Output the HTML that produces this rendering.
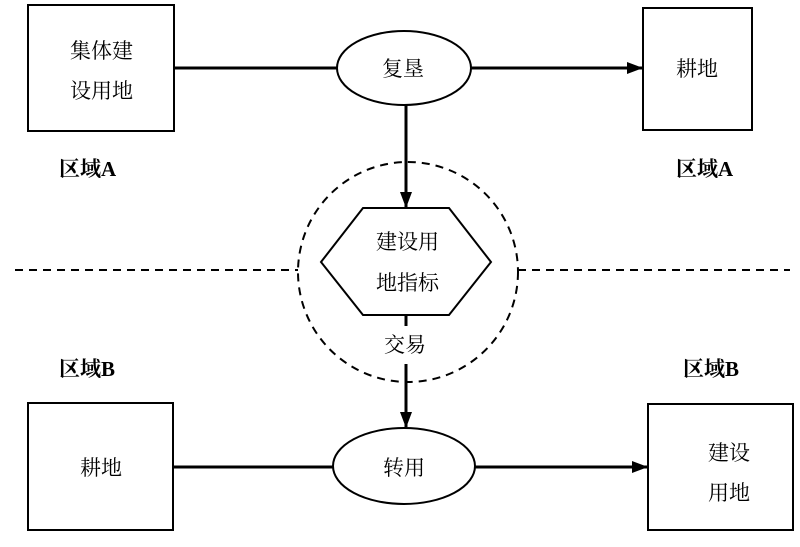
<!DOCTYPE html>
<html><head><meta charset="utf-8"><style>
body{margin:0;background:#fff}
svg text{font-family:"Liberation Serif","Noto Serif CJK SC","Noto Sans CJK SC",serif;font-size:21px;fill:#000}
svg text.b{font-weight:bold}
</style></head><body>
<svg width="800" height="542" viewBox="0 0 800 542" xmlns="http://www.w3.org/2000/svg">
<defs><marker id="b" markerWidth="16" markerHeight="12" refX="15" refY="6" orient="auto" markerUnits="userSpaceOnUse"><path d="M0,0 L16,6 L0,12 Z" fill="#000"/></marker></defs>
<g fill="none" stroke="#000" stroke-width="2">
<rect x="28" y="5" width="146" height="126"/>
<rect x="643" y="8" width="109" height="122"/>
<rect x="28" y="403" width="145" height="127"/>
<rect x="648" y="404" width="145" height="126"/>
<ellipse cx="404" cy="68" rx="67" ry="37"/>
<ellipse cx="404" cy="466" rx="71" ry="38"/>
<polygon points="321,262 363,208 449,208 491,262 449,315 363,315"/>
<circle cx="408" cy="272" r="110" stroke-dasharray="8,6"/>
<line x1="15" y1="270" x2="298" y2="270" stroke-dasharray="8,6"/>
<line x1="518" y1="270" x2="790" y2="270" stroke-dasharray="8,6"/>
<line x1="174" y1="68" x2="337" y2="68" stroke-width="3"/>
<line x1="471" y1="68" x2="642" y2="68" stroke-width="3" marker-end="url(#b)"/>
<line x1="173" y1="467" x2="333" y2="467" stroke-width="3"/>
<line x1="475" y1="467" x2="647" y2="467" stroke-width="3" marker-end="url(#b)"/>
<line x1="406" y1="105" x2="406" y2="207" stroke-width="3" marker-end="url(#b)"/>
<line x1="406" y1="315" x2="406" y2="326" stroke-width="3"/>
<line x1="406" y1="364" x2="406" y2="427" stroke-width="3" marker-end="url(#b)"/>
</g>
<text x="70" y="58">集体建</text>
<text x="70" y="98">设用地</text>
<text x="382" y="76">复垦</text>
<text x="676" y="76">耕地</text>
<text class="b" x="59" y="176">区域A</text>
<text class="b" x="676" y="176">区域A</text>
<text x="376" y="249">建设用</text>
<text x="376" y="290">地指标</text>
<text x="384" y="352">交易</text>
<text class="b" x="59" y="376">区域B</text>
<text class="b" x="683" y="376">区域B</text>
<text x="80" y="475">耕地</text>
<text x="383" y="475">转用</text>
<text x="708" y="460">建设</text>
<text x="708" y="500">用地</text>
</svg>
</body></html>
